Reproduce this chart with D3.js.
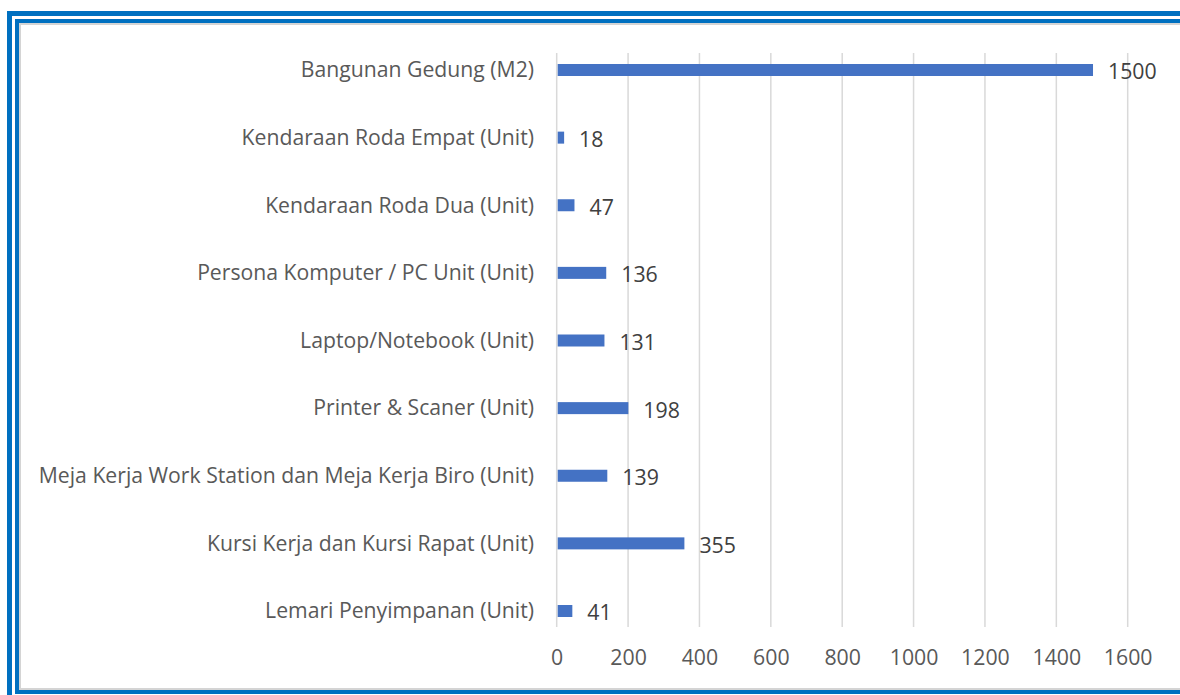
<!DOCTYPE html>
<html>
<head>
<meta charset="utf-8">
<script src="https://cdn.jsdelivr.net/npm/d3@7"></script>
<style>
  html, body { margin: 0; padding: 0; background: #fff; }
  svg { display: block; }
</style>
</head>
<body>
<div id="chart"></div>
<script>
const categories = [
    "Bangunan Gedung (M2)",
    "Kendaraan Roda Empat (Unit)",
    "Kendaraan Roda Dua (Unit)",
    "Persona Komputer / PC Unit (Unit)",
    "Laptop/Notebook (Unit)",
    "Printer & Scaner (Unit)",
    "Meja Kerja Work Station dan Meja Kerja Biro (Unit)",
    "Kursi Kerja dan Kursi Rapat (Unit)",
    "Lemari Penyimpanan (Unit)"
];
const values = [1500, 18, 47, 136, 131, 198, 139, 355, 41];
const xTicks = [0, 200, 400, 600, 800, 1000, 1200, 1400, 1600];

const W = 1180, H = 695;
const font = "'Open Sans', 'Noto Sans', sans-serif";

const svg = d3.select("#chart")
    .append("svg")
    .attr("width", W)
    .attr("height", H);

// frame: double blue border with a soft grey inner shadow
svg.append("rect")
    .attr("x", 9.5).attr("y", 13.5)
    .attr("width", 1200).attr("height", 720)
    .attr("fill", "none")
    .attr("stroke", "#0070c0")
    .attr("stroke-width", 5);

svg.append("rect")
    .attr("x", 20).attr("y", 24)
    .attr("width", 1200).attr("height", 665)
    .attr("fill", "#fff")
    .attr("stroke", "#d4d4d4")
    .attr("stroke-width", 2);

svg.append("rect")
    .attr("x", 17).attr("y", 21)
    .attr("width", 1200).attr("height", 671)
    .attr("fill", "none")
    .attr("stroke", "#0070c0")
    .attr("stroke-width", 4);

const x = d3.scaleLinear()
    .domain([0, 1600])
    .range([556.7, 1127.7]);

const y = d3.scalePoint()
    .domain(categories)
    .range([70, 611]);

const gridTop = 53, gridBottom = 627;
const barH = 12;

// vertical gridlines
svg.append("g")
    .selectAll("line")
    .data(xTicks)
    .enter()
    .append("line")
    .attr("x1", d => x(d))
    .attr("x2", d => x(d))
    .attr("y1", gridTop)
    .attr("y2", gridBottom)
    .attr("stroke", "#d9d9d9")
    .attr("stroke-width", 1.5);

// x axis labels
const xAxis = svg.append("g")
    .attr("transform", `translate(0, ${gridBottom + 31})`)
    .call(d3.axisBottom(x).tickValues(xTicks).tickFormat(d3.format("d")).tickSize(0).tickPadding(0));
xAxis.select(".domain").remove();
xAxis.selectAll("text")
    .attr("dy", "0.35em")
    .attr("fill", "#595959")
    .style("font-family", font)
    .style("font-size", "21.3px");

// category labels
const yAxis = svg.append("g")
    .attr("transform", `translate(534, 0)`)
    .call(d3.axisLeft(y).tickSize(0).tickPadding(0));
yAxis.select(".domain").remove();
yAxis.selectAll("text")
    .attr("fill", "#595959")
    .style("font-family", font)
    .style("font-size", "21.2px");

// bars
svg.append("g")
    .selectAll("rect")
    .data(values)
    .enter()
    .append("rect")
    .attr("x", x(0) + 1)
    .attr("y", (d, i) => y(categories[i]) - barH / 2)
    .attr("width", d => x(d) - x(0))
    .attr("height", barH)
    .attr("fill", "#4472c4");

// value labels
svg.append("g")
    .selectAll("text")
    .data(values)
    .enter()
    .append("text")
    .attr("x", d => x(d) + 16)
    .attr("y", (d, i) => y(categories[i]) + 2)
    .attr("dy", "0.35em")
    .attr("fill", "#404040")
    .style("font-family", font)
    .style("font-size", "21.3px")
    .text(d => d);
</script>
</body>
</html>
